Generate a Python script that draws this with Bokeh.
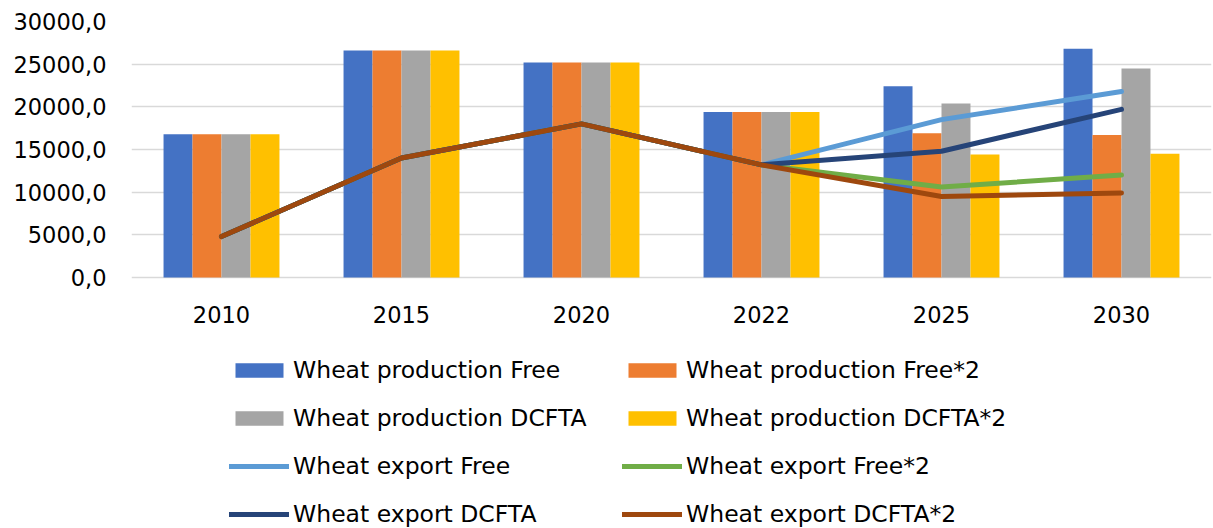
from bokeh.plotting import figure
from bokeh.models import ColumnDataSource, Legend, LegendItem, FixedTicker, FactorRange, Range1d
from bokeh.transform import dodge
from bokeh.embed import file_html
from bokeh.resources import INLINE

years = ["2010", "2015", "2020", "2022", "2025", "2030"]
prod_free = [16800, 26600, 25200, 19400, 22400, 26800]
prod_free2 = [16800, 26600, 25200, 19400, 16900, 16700]
prod_dcfta = [16800, 26600, 25200, 19400, 20400, 24500]
prod_dcfta2 = [16800, 26600, 25200, 19400, 14400, 14500]
exp_free = [4800, 14000, 18000, 13200, 18500, 21800]
exp_free2 = [4800, 14000, 18000, 13200, 10600, 12000]
exp_dcfta = [4800, 14000, 18000, 13200, 14800, 19700]
exp_dcfta2 = [4800, 14000, 18000, 13200, 9500, 9900]
y_ticks = [0, 5000, 10000, 15000, 20000, 25000, 30000]
y_tick_labels = ["0,0", "5000,0", "10000,0", "15000,0", "20000,0", "25000,0", "30000,0"]

src = ColumnDataSource(dict(year=years, pf=prod_free, pf2=prod_free2, pd=prod_dcfta, pd2=prod_dcfta2,
                            ef=exp_free, ef2=exp_free2, ed=exp_dcfta, ed2=exp_dcfta2))

FONT = "DejaVu Sans"
W, H = 1213, 528
TOP, LEFT, RIGHT = 21, 131, 2
ZERO_PX = 277            # page y of the value 0
frame_h = H - TOP
span_px = ZERO_PX - TOP  # pixels covering 0..30000
y_max = 30000
y_min = -y_max * (frame_h - span_px) / span_px

p = figure(width=W, height=H, x_range=FactorRange(*years), y_range=Range1d(y_min, y_max),
           output_backend="svg", toolbar_location=None,
           min_border_left=LEFT, min_border_right=RIGHT, min_border_top=TOP, min_border_bottom=0)
p.outline_line_color = None
p.background_fill_color = "white"

bw = 0.161
bar_specs = [("pf", -1.5, "#4472C4"), ("pf2", -0.5, "#ED7D31"), ("pd", 0.5, "#A5A5A5"), ("pd2", 1.5, "#FFC000")]
bars = {}
for col, k, c in bar_specs:
    bars[col] = p.vbar(x=dodge("year", k * bw, range=p.x_range), top=col, width=bw, source=src,
                       fill_color=c, line_color=None)

line_specs = [("ef", "#5B9BD5"), ("ef2", "#70AD47"), ("ed", "#264478"), ("ed2", "#9E480E")]
lines = {}
for col, c in line_specs:
    lines[col] = p.line(x="year", y=col, source=src, line_color=c, line_width=5,
                        line_cap="round", line_join="round")

# axes
p.yaxis.ticker = FixedTicker(ticks=y_ticks)
p.yaxis.major_label_overrides = {t: l for t, l in zip(y_ticks, y_tick_labels)}
for ax in (p.xaxis[0], p.yaxis[0]):
    ax.axis_line_color = None
    ax.major_tick_line_color = None
    ax.minor_tick_line_color = None
    ax.major_tick_out = 0
    ax.major_tick_in = 0
    ax.major_label_text_font = FONT
    ax.major_label_text_font_size = "22.5px"
    ax.major_label_text_color = "#000000"
p.yaxis.major_label_standoff = 25
p.xaxis.fixed_location = 0
p.xaxis.major_label_standoff = 28
p.xgrid.grid_line_color = None
p.ygrid.ticker = FixedTicker(ticks=y_ticks)
p.ygrid.grid_line_color = "#D9D9D9"
p.ygrid.grid_line_width = 1.5

items = [
    LegendItem(label="Wheat production Free", renderers=[bars["pf"]]),
    LegendItem(label="Wheat production DCFTA", renderers=[bars["pd"]]),
    LegendItem(label="Wheat export Free", renderers=[lines["ef"]]),
    LegendItem(label="Wheat export DCFTA", renderers=[lines["ed"]]),
    LegendItem(label="Wheat production Free*2", renderers=[bars["pf2"]]),
    LegendItem(label="Wheat production DCFTA*2", renderers=[bars["pd2"]]),
    LegendItem(label="Wheat export Free*2", renderers=[lines["ef2"]]),
    LegendItem(label="Wheat export DCFTA*2", renderers=[lines["ed2"]]),
]
legend = Legend(items=items, location=(98, 0), orientation="vertical", ncols=2,
                border_line_color=None, background_fill_alpha=0, padding=0, margin=0,
                spacing=20, glyph_width=60, glyph_height=18, label_height=26, label_width=309,
                label_standoff=4, label_text_font=FONT, label_text_font_size="23.5px",
                label_text_color="#000000")
p.add_layout(legend, "center")

open("out.html", "w").write(file_html(p, INLINE))
